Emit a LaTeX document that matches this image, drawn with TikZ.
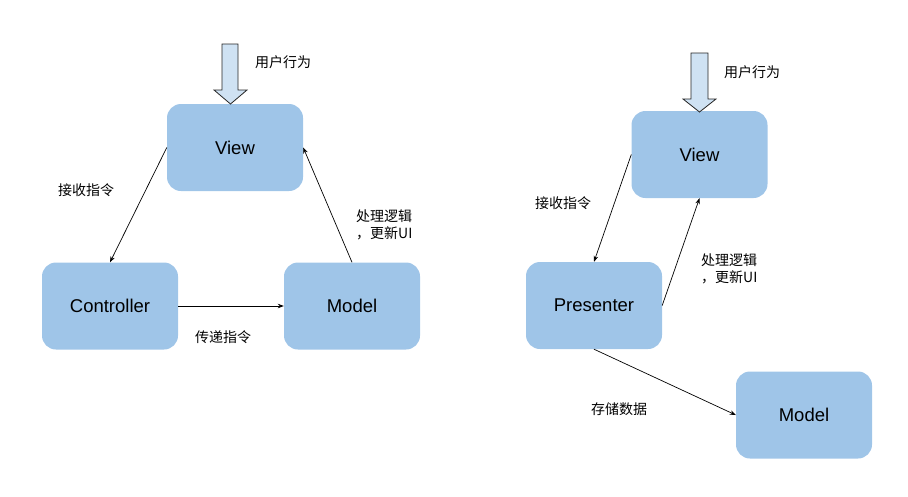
\documentclass[tikz,border=0pt]{standalone}
\usepackage{fontspec}
\setmainfont{Liberation Sans}
\newfontfamily\cjk{Noto Sans CJK SC}
\usetikzlibrary{arrows.meta}
\definecolor{boxfill}{HTML}{9FC5E8}
\definecolor{arrfill}{HTML}{CFE2F3}
\begin{document}
\begin{tikzpicture}[x=1pt,y=-1pt,
  box/.style={draw=none,fill=boxfill,rounded corners=14pt,minimum width=136pt,minimum height=87pt,inner sep=0pt,font=\fontsize{18.5}{20}\selectfont},
  lbl/.style={font=\cjk\fontsize{14}{17}\selectfont,inner sep=0pt},
  conn/.style={draw=black,line width=0.7pt,-{Stealth[length=6pt,width=4.5pt]}},
  blockarrow/.style={draw=black!85,fill=arrfill,line width=0.8pt}]
\useasboundingbox (0,0) rectangle (908,496);
% left MVC
\node[box] (v1) at (235,147.5) {View};
\node[box] (c1) at (110,306) {Controller};
\node[box] (m1) at (352,306) {Model};
\draw[blockarrow] (222,44) -- (238,44) -- (238,90) -- (247,90) -- (230.5,104) -- (214,90) -- (222,90) -- cycle;
\node[lbl,anchor=west] (t1) at (255,62) {用户行为};
\draw[conn] (v1.west) -- (c1.north);
\draw[conn] (m1.north) -- (v1.east);
\draw[conn] (c1.east) -- (m1.west);
\node[lbl] (t2) at (86,190) {接收指令};
\node[lbl,anchor=west,align=left] (t3) at (356,224.5) {处理逻辑\\，更新UI};
\node[lbl] (t4) at (223,337) {传递指令};
% right MVP
\node[box] (v2) at (699.5,154.5) {View};
\node[box] (p2) at (594,305.5) {Presenter};
\node[box] (m2) at (804,415) {Model};
\draw[blockarrow] (691,53) -- (708,53) -- (708,99) -- (716,99) -- (699.5,112) -- (683,99) -- (691,99) -- cycle;
\node[lbl,anchor=west] (t5) at (724,72) {用户行为};
\draw[conn] (v2.west) -- (p2.north);
\draw[conn] (p2.east) -- (v2.south);
\draw[conn] (p2.south) -- (m2.west);
\node[lbl] (t6) at (563,203) {接收指令};
\node[lbl,anchor=west,align=left] (t7) at (701,269) {处理逻辑\\，更新UI};
\node[lbl] (t8) at (619,409) {存储数据};
\end{tikzpicture}
\end{document}
